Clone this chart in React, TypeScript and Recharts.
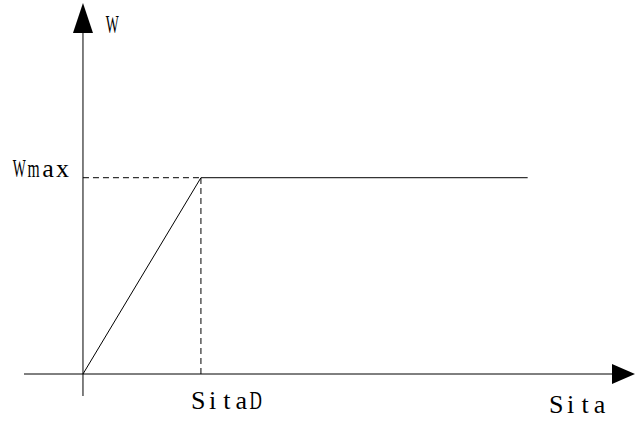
import React from "react";
import {
  ComposedChart,
  Line,
  XAxis,
  YAxis,
  ReferenceLine,
  ReferenceDot,
} from "recharts";

// curve W(Sita): linear ramp up to SitaD, then flat at Wmax
const sitaValues = [0, 1, 3.77];
const wValues = [0, 1, 1];

const sitaD = 1;
const wMax = 1;

// axis extents (data units)
const xDomain = [-0.5, 4.68];
const yDomain = [-0.112, 1.89];
const yAxisBottom = -0.112;

const FONT = "'Liberation Serif', 'DejaVu Serif', serif";
const CELL = 14.4;
// glyphs wider than a half-width cell get squeezed into it
const SQUEEZE: Record<string, number> = { W: 0.53, m: 0.6, D: 0.66 };

const data = sitaValues.map((s, i) => ({ sita: s, w: wValues[i] }));

const ArrowRight = (props: any) => {
  const { cx, cy } = props;
  return <polygon points={`${cx},${cy} ${cx - 23},${cy - 10} ${cx - 23},${cy + 10}`} fill="#000" />;
};

const ArrowUp = (props: any) => {
  const { cx, cy } = props;
  return <polygon points={`${cx},${cy} ${cx - 10},${cy + 30} ${cx + 10},${cy + 30}`} fill="#000" />;
};

// each glyph centred in its own cell, like a CJK serif font
const textAt = (label: string, dx: number, dy: number) => (props: any) => {
  const x0 = props.cx + dx;
  const y = props.cy + dy;
  return (
    <g>
      {label.split("").map((ch, i) => (
        <text
          key={i}
          x={0}
          y={0}
          transform={`translate(${x0 + CELL * i + CELL / 2} ${y}) scale(${SQUEEZE[ch] ?? 1} 1)`}
          fontFamily={FONT}
          fontSize={26}
          fill="#000"
          textAnchor="middle"
        >
          {ch}
        </text>
      ))}
    </g>
  );
};

export default function App() {
  return (
    <div style={{ position: "absolute", left: 0, top: 0, background: "#fff" }}>
      <ComposedChart
        width={635}
        height={428}
        data={data}
        margin={{ top: 3, right: 0, bottom: 32, left: 24 }}
      >
        <XAxis type="number" dataKey="sita" domain={xDomain} allowDataOverflow hide />
        <YAxis type="number" domain={yDomain} allowDataOverflow hide />

        {/* axes */}
        <ReferenceLine
          segment={[{ x: xDomain[0], y: 0 }, { x: xDomain[1] - 0.15, y: 0 }]}
          stroke="#000"
          strokeWidth={1}
        />
        <ReferenceLine
          segment={[{ x: 0, y: yAxisBottom }, { x: 0, y: yDomain[1] - 0.12 }]}
          stroke="#000"
          strokeWidth={1}
        />
        <ReferenceDot x={xDomain[1]} y={0} shape={ArrowRight} />
        <ReferenceDot x={0} y={yDomain[1]} shape={ArrowUp} />

        {/* dashed guides */}
        <ReferenceLine
          segment={[{ x: 0, y: wMax }, { x: sitaD, y: wMax }]}
          stroke="#000"
          strokeDasharray="6 4"
        />
        <ReferenceLine
          segment={[{ x: sitaD, y: 0 }, { x: sitaD, y: wMax }]}
          stroke="#000"
          strokeDasharray="6 4"
        />

        <Line
          type="linear"
          dataKey="w"
          stroke="#000"
          strokeWidth={1}
          dot={false}
          isAnimationActive={false}
        />

        {/* labels */}
        <ReferenceDot x={0} y={yDomain[1]} shape={textAt("W", 22, 30)} />
        <ReferenceDot x={0} y={wMax} shape={textAt("Wmax", -71, -1)} />
        <ReferenceDot x={sitaD} y={0} shape={textAt("SitaD", -10, 35)} />
        <ReferenceDot x={xDomain[1]} y={0} shape={textAt("Sita", -86, 39)} />
      </ComposedChart>
    </div>
  );
}
